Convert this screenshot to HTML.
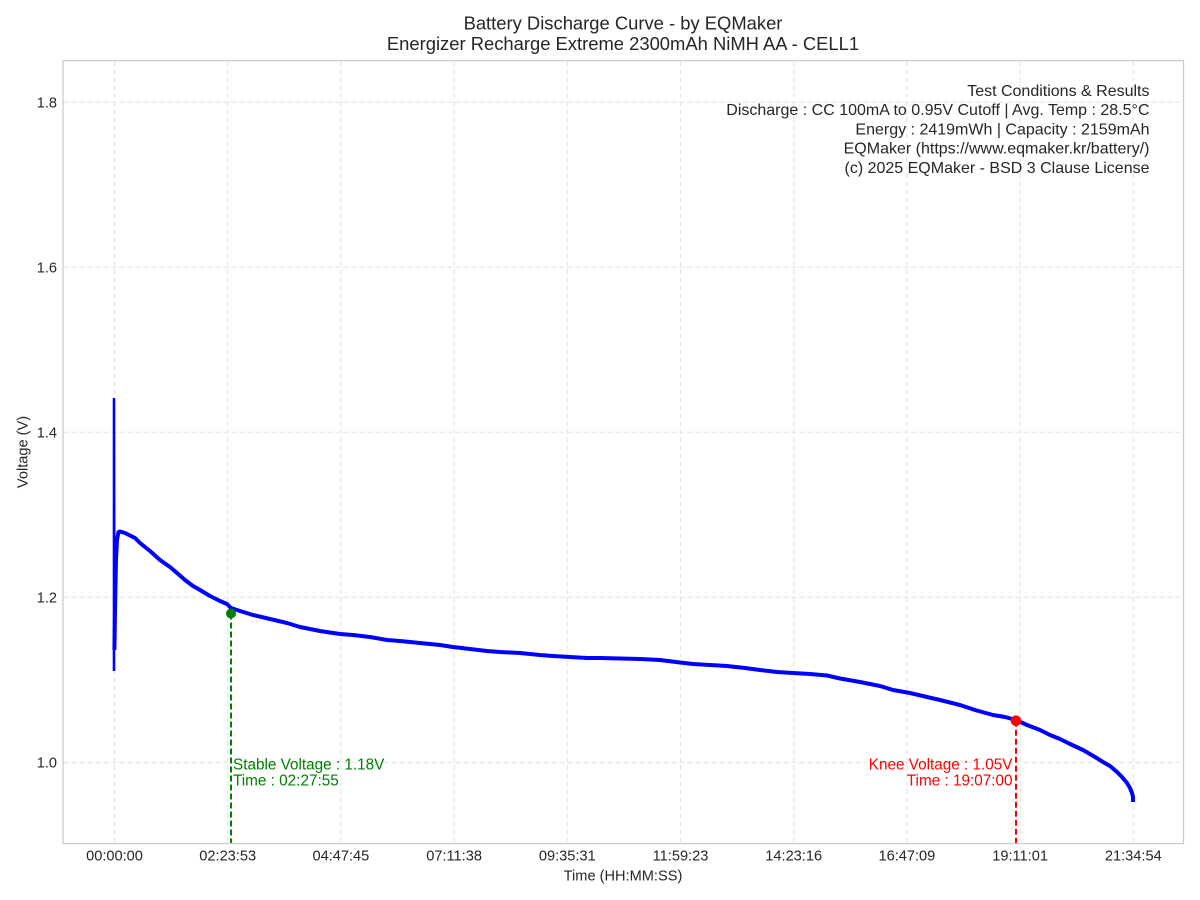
<!DOCTYPE html>
<html>
<head>
<meta charset="utf-8">
<style>
  html,body{margin:0;padding:0;background:#fff;}
  svg{display:block;}
  text{font-family:"Liberation Sans","DejaVu Sans",Arial,sans-serif;fill:#262626;}
</style>
</head>
<body>
<svg width="1200" height="900" viewBox="0 0 1200 900" xmlns="http://www.w3.org/2000/svg">
  <rect x="0" y="0" width="1200" height="900" fill="#ffffff"/>

  <!-- grid -->
  <g stroke="#e3e3e3" stroke-width="1" stroke-dasharray="5,3" fill="none">
    <line x1="63" y1="102.2" x2="1183.5" y2="102.2"/>
    <line x1="63" y1="267.2" x2="1183.5" y2="267.2"/>
    <line x1="63" y1="432.2" x2="1183.5" y2="432.2"/>
    <line x1="63" y1="597.2" x2="1183.5" y2="597.2"/>
    <line x1="63" y1="762.4" x2="1183.5" y2="762.4"/>
    <line x1="114.5" y1="61" x2="114.5" y2="843"/>
    <line x1="227.7" y1="61" x2="227.7" y2="843"/>
    <line x1="340.9" y1="61" x2="340.9" y2="843"/>
    <line x1="454.1" y1="61" x2="454.1" y2="843"/>
    <line x1="567.3" y1="61" x2="567.3" y2="843"/>
    <line x1="680.5" y1="61" x2="680.5" y2="843"/>
    <line x1="793.7" y1="61" x2="793.7" y2="843"/>
    <line x1="906.9" y1="61" x2="906.9" y2="843"/>
    <line x1="1020.1" y1="61" x2="1020.1" y2="843"/>
    <line x1="1133.3" y1="61" x2="1133.3" y2="843"/>
  </g>

  <!-- data curve -->
  <path fill="none" stroke="#0000ff" stroke-width="2.6" d="M114,671 L114,398 L114.4,650"/>
  <path fill="none" stroke="#0000ff" stroke-width="4" stroke-linejoin="round" stroke-linecap="butt"
    d="M114.4,650 L115.2,600 L116,560 L117,540 L118.5,532 L120,531.5 L125,533 L130,535.5 L135,538 L140,543 L150,551 L160,560 L170,567 L177,573 L185,580 L193,586 L200,590 L210,596 L220,601 L227,604 L231,608 L240,611 L253,615 L270,619 L287,623 L300,627 L320,631 L340,634 L353,635 L370,637 L387,640 L400,641 L420,643 L440,645 L453,647 L470,649 L487,651 L500,652 L520,653 L540,655 L553,656 L570,657 L587,658 L600,658 L620,658.5 L640,659 L660,660 L680,662.5 L693,664 L710,665 L727,666 L745,668 L760,670 L777,672 L793,673 L810,674 L827,675.5 L840,678.5 L860,682 L880,686 L893,690 L910,693 L927,697 L940,700 L960,705 L975,710 L993,715 L1005,717 L1016,720 L1027,725 L1040,730 L1050,735 L1060,739 L1070,744 L1083,750 L1095,757 L1103,762 L1110,766 L1117,772 L1122,777 L1127,783 L1130,788 L1132,793 L1133,797 L1133,802"/>

  <!-- stable marker -->
  <line x1="231" y1="613.5" x2="231" y2="843" stroke="#008000" stroke-width="2" stroke-dasharray="6,3"/>
  <circle cx="231" cy="613.5" r="5" fill="#008000"/>
  <text x="233" y="769.5" font-size="15.3" style="fill:#008000">Stable Voltage : 1.18V</text>
  <text x="233" y="785.5" font-size="15.3" style="fill:#008000">Time : 02:27:55</text>

  <!-- knee marker -->
  <line x1="1016" y1="720.7" x2="1016" y2="843" stroke="#ff0000" stroke-width="2" stroke-dasharray="6,3"/>
  <circle cx="1016" cy="720.7" r="5.3" fill="#ff0000"/>
  <text x="1012.5" y="769.5" font-size="15.3" text-anchor="end" style="fill:#ff0000">Knee Voltage : 1.05V</text>
  <text x="1012.5" y="785.5" font-size="15.3" text-anchor="end" style="fill:#ff0000">Time : 19:07:00</text>

  <!-- frame -->
  <rect x="63" y="60.6" width="1120.5" height="783" fill="none" stroke="#cccccc" stroke-width="1.3"/>

  <!-- titles -->
  <text x="623" y="29.5" font-size="18.4" text-anchor="middle">Battery Discharge Curve - by EQMaker</text>
  <text x="623" y="50" font-size="18.4" text-anchor="middle">Energizer Recharge Extreme 2300mAh NiMH AA - CELL1</text>

  <!-- info box -->
  <g font-size="16" text-anchor="end">
    <text x="1149.5" y="96">Test Conditions &amp; Results</text>
    <text x="1149.5" y="115.2">Discharge : CC 100mA to 0.95V Cutoff | Avg. Temp : 28.5°C</text>
    <text x="1149.5" y="134.4">Energy : 2419mWh | Capacity : 2159mAh</text>
    <text x="1149.5" y="153.6">EQMaker (https://www.eqmaker.kr/battery/)</text>
    <text x="1149.5" y="172.8">(c) 2025 EQMaker - BSD 3 Clause License</text>
  </g>

  <!-- y tick labels -->
  <g font-size="14.6" text-anchor="end">
    <text x="57" y="107.3">1.8</text>
    <text x="57" y="272.3">1.6</text>
    <text x="57" y="437.3">1.4</text>
    <text x="57" y="602.3">1.2</text>
    <text x="57" y="767.5">1.0</text>
  </g>

  <!-- x tick labels -->
  <g font-size="14.6" text-anchor="middle">
    <text x="114.5" y="860.5">00:00:00</text>
    <text x="227.7" y="860.5">02:23:53</text>
    <text x="340.9" y="860.5">04:47:45</text>
    <text x="454.1" y="860.5">07:11:38</text>
    <text x="567.3" y="860.5">09:35:31</text>
    <text x="680.5" y="860.5">11:59:23</text>
    <text x="793.7" y="860.5">14:23:16</text>
    <text x="906.9" y="860.5">16:47:09</text>
    <text x="1020.1" y="860.5">19:11:01</text>
    <text x="1133.3" y="860.5">21:34:54</text>
  </g>

  <!-- axis labels -->
  <text x="623" y="880.5" font-size="14.6" text-anchor="middle">Time (HH:MM:SS)</text>
  <text x="0" y="0" font-size="14.6" text-anchor="middle" transform="translate(27.5,452) rotate(-90)">Voltage (V)</text>
</svg>
</body>
</html>
